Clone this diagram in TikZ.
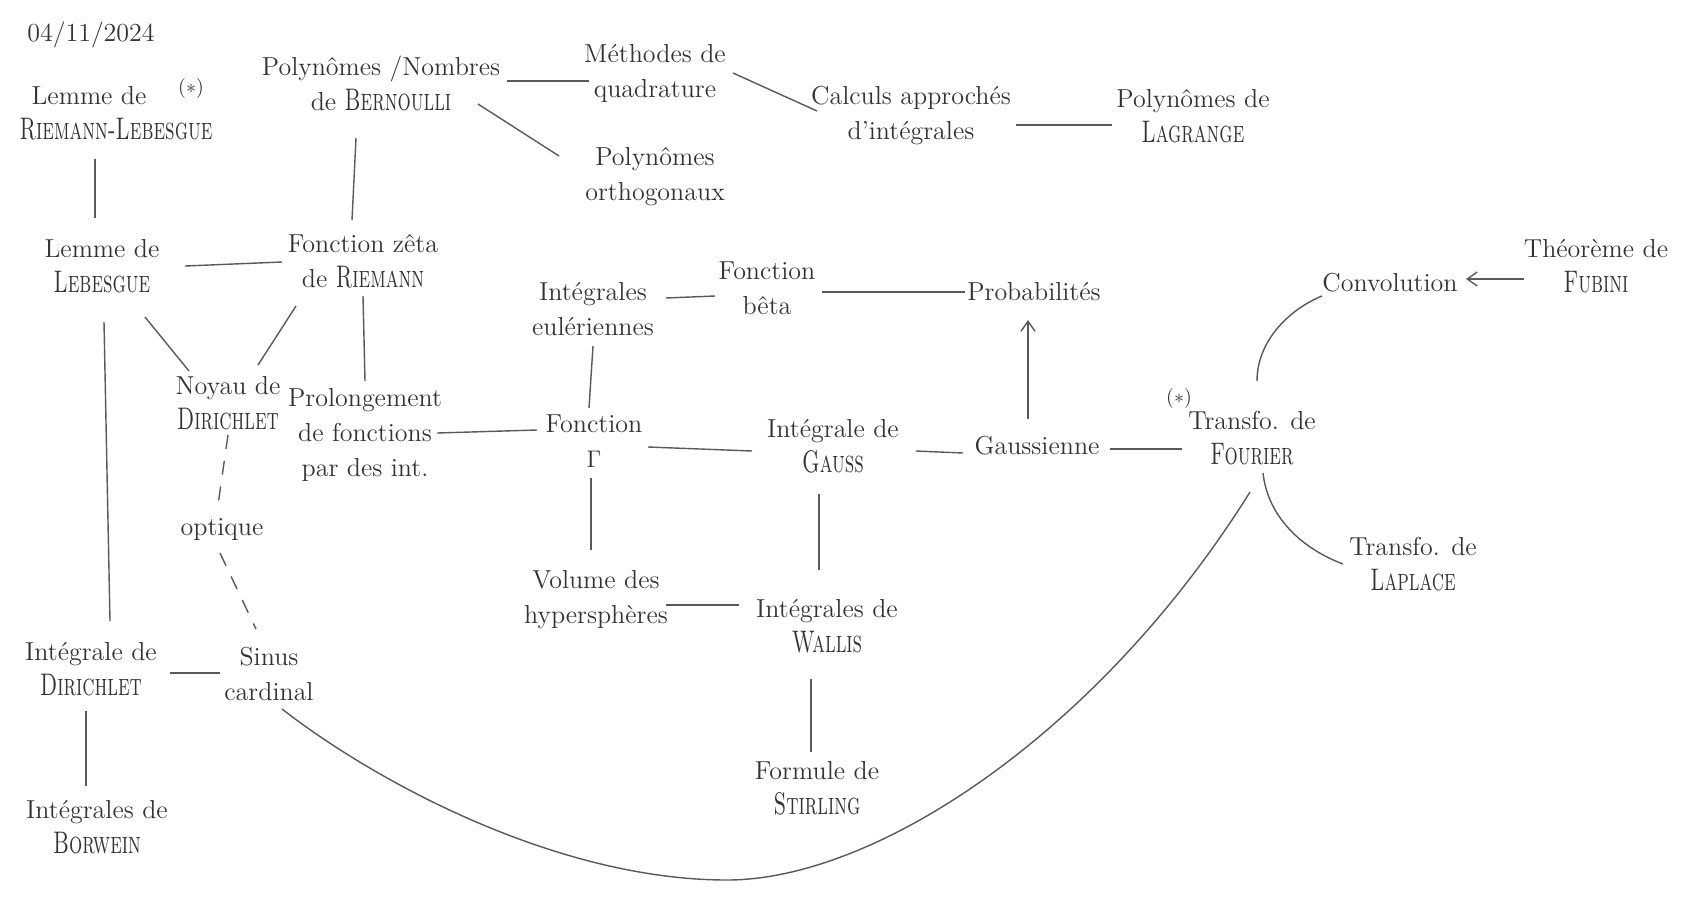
\documentclass[tikz,border=0pt]{standalone}
\usepackage{graphicx}
\usetikzlibrary{arrows.meta}
\newcommand{\nm}[1]{\scalebox{0.8}[1.2]{\textsc{#1}}}
\begin{document}
\begin{tikzpicture}[x=0.5pt,y=-0.5pt,
  every node/.style={font=\fontsize{13}{17.5}\selectfont, text=black!80, align=center, inner sep=1pt},
  lk/.style={draw=black!65, line width=0.7pt},
  dsh/.style={lk, dash pattern=on 7pt off 6pt},
  arr/.style={lk, -{Straight Barb[length=5pt,width=7pt]}},
  note/.style={font=\fontsize{10}{12}\selectfont}]
\useasboundingbox[fill=white] (0,0) rectangle (1685,911);

\node (date) at (91,35) {04/11/2024};
\node[align=left] (rl) at (116,113) {\hspace*{6pt}Lemme de\\\nm{Riemann-Lebesgue}};
\node[note] (star1) at (191,88) {($\ast$)};
\node (bern) at (381,83) {Polynômes /Nombres\\de \nm{Bernoulli}};
\node (meth) at (655,73) {Méthodes de\\quadrature};
\node (orth) at (655,177) {Polynômes\\orthogonaux};
\node (calc) at (911,116) {Calculs approchés\\d'intégrales};
\node (lag) at (1193,116) {Polynômes de\\\nm{Lagrange}};
\node (leb) at (102,266) {Lemme de\\\nm{Lebesgue}};
\node (zeta) at (363,261) {Fonction zêta\\de \nm{Riemann}};
\node (noyau) at (228,403) {Noyau de\\\nm{Dirichlet}};
\node (prol) at (365,435) {Prolongement\\de fonctions\\par des int.};
\node (eul) at (593,309) {Intégrales\\eulériennes};
\node (beta) at (767,288) {Fonction\\bêta};
\node (proba) at (1034,292) {Probabilités};
\node (gamma) at (594,441) {Fonction\\$\Gamma$};
\node (gauss) at (833,446) {Intégrale de\\\nm{Gauss}};
\node (gaussienne) at (1037,446) {Gaussienne};
\node (fourier) at (1252,438) {Transfo. de\\\nm{Fourier}};
\node[note] (star2) at (1179,398) {($\ast$)};
\node (conv) at (1390,283) {Convolution};
\node (fubini) at (1596,266) {Théorème de\\\nm{Fubini}};
\node (laplace) at (1413,564) {Transfo. de\\\nm{Laplace}};
\node (optique) at (222,530) {optique};
\node (volume) at (596,600) {Volume des\\hypersphères};
\node (wallis) at (827,626) {Intégrales de\\\nm{Wallis}};
\node (dirint) at (91,669) {Intégrale de\\\nm{Dirichlet}};
\node (sinus) at (269,674) {Sinus\\cardinal};
\node (stirling) at (817,788) {Formule de\\\nm{Stirling}};
\node (borwein) at (97,827) {Intégrales de\\\nm{Borwein}};
\coordinate (bottom) at (727,880);

% connectors
\draw[lk] ([shift={(126,-2)}]bern.center) -- ([shift={(-66,8)}]meth.center);
\draw[lk] ([shift={(97,21)}]bern.center) -- ([shift={(-96,-21)}]orth.center);
\draw[lk] ([shift={(78,0)}]meth.center) -- ([shift={(-94,-5)}]calc.center);
\draw[lk] ([shift={(105,9)}]calc.center) -- ([shift={(-81,9)}]lag.center);
\draw[lk] ([shift={(-21,46)}]rl.center) -- ([shift={(-7,-48)}]leb.center);
\draw[lk] ([shift={(-25,55)}]bern.center) -- ([shift={(-11,-41)}]zeta.center);
\draw[lk] ([shift={(83,0)}]leb.center) -- ([shift={(-81,1)}]zeta.center);
\draw[lk] ([shift={(43,51)}]leb.center) -- ([shift={(-39,-32)}]noyau.center);
\draw[lk] ([shift={(-67,45)}]zeta.center) -- ([shift={(30,-38)}]noyau.center);
\draw[lk] ([shift={(0,35)}]zeta.center) -- ([shift={(0,-54)}]prol.center);
\draw[lk] ([shift={(2,56)}]leb.center) -- ([shift={(19,-48)}]dirint.center);
\draw[lk] ([shift={(72,-2)}]prol.center) -- ([shift={(-57,-11)}]gamma.center);
\draw[lk] ([shift={(0,37)}]eul.center) -- ([shift={(-5,-33)}]gamma.center);
\draw[lk] ([shift={(73,-11)}]eul.center) -- ([shift={(-52,8)}]beta.center);
\draw[lk] ([shift={(55,4)}]beta.center) -- ([shift={(-69,0)}]proba.center);
\draw[lk] ([shift={(54,6)}]gamma.center) -- ([shift={(-81,5)}]gauss.center);
\draw[lk] ([shift={(-3,37)}]gamma.center) -- ([shift={(-5,-50)}]volume.center);
\draw[lk] ([shift={(83,5)}]gauss.center) -- ([shift={(-74,7)}]gaussienne.center);
\draw[lk] ([shift={(-14,48)}]gauss.center) -- ([shift={(-8,-56)}]wallis.center);
\draw[arr] ([shift={(-9,-27)}]gaussienne.center) -- ([shift={(-6,28)}]proba.center);
\draw[lk] ([shift={(73,3)}]gaussienne.center) -- ([shift={(-70,11)}]fourier.center);
\draw[lk] ([shift={(5,-57)}]fourier.center) .. controls +(0,-42) and +(-30,12) .. ([shift={(-68,13)}]conv.center);
\draw[arr] ([shift={(-72,13)}]fubini.center) -- ([shift={(76,-4)}]conv.center);
\draw[lk] ([shift={(11,35)}]fourier.center) .. controls +(5,45) and +(-40,-15) .. ([shift={(-70,0)}]laplace.center);
\draw[lk] ([shift={(-2,54)}]fourier.center) .. controls +(-150,240) and +(150,0) .. (bottom)
      .. controls +(-167,0) and +(98,76) .. ([shift={(13,35)}]sinus.center);
\draw[lk] ([shift={(70,5)}]volume.center) -- ([shift={(-88,-21)}]wallis.center);
\draw[lk] ([shift={(-16,53)}]wallis.center) -- ([shift={(-6,-36)}]stirling.center);
\draw[dsh] ([shift={(0,32)}]noyau.center) -- ([shift={(-4,-25)}]optique.center);
\draw[dsh] ([shift={(-2,23)}]optique.center) -- ([shift={(-13,-45)}]sinus.center);
\draw[lk] ([shift={(79,4)}]dirint.center) -- ([shift={(-49,-1)}]sinus.center);
\draw[lk] ([shift={(-5,42)}]dirint.center) -- ([shift={(-11,-41)}]borwein.center);
\end{tikzpicture}
\end{document}
